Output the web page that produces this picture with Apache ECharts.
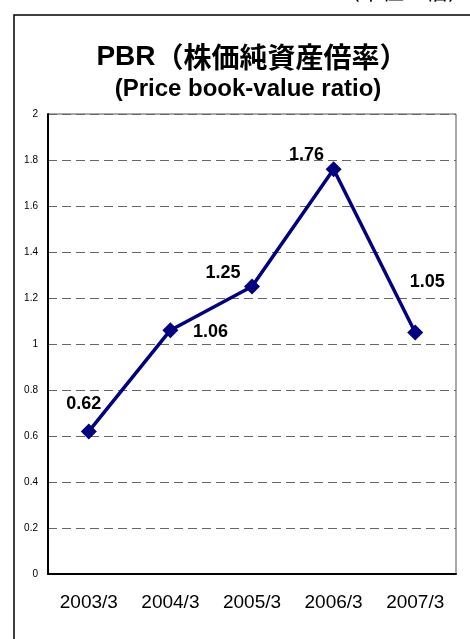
<!DOCTYPE html>
<html><head><meta charset="utf-8">
<script src="https://cdn.jsdelivr.net/npm/echarts@6/dist/echarts.min.js"></script>
<style>html,body{margin:0;padding:0;background:#fff}#c{width:470px;height:639px}</style>
</head><body><div id="c"></div>
<script>
const categories = ['2003/3','2004/3','2005/3','2006/3','2007/3'];
const pbrValues = [0.62, 1.06, 1.25, 1.76, 1.05];
const yTicks = {min: 0, max: 2, interval: 0.2};
const titleLatin = 'PBR';
const titleKanji = '（株価純資産倍率）';
const titleLine2 = '(Price book-value ratio)';
const unitText = '（単位：倍）';

const labelOffsets = [[-5,-27],[40,2],[-29,-13],[-27,-14],[12,-50]];

const chart = echarts.init(document.getElementById('c'));
chart.setOption({
  animation: false,
  backgroundColor: '#fff',
  graphic: [
    {type:'rect', shape:{x:14,y:15,width:470,height:640}, style:{fill:'none',stroke:'#000',lineWidth:1.5}, z:-1},
    {type:'text', x:470, y:-20, style:{text:unitText, fontSize:22, fontFamily:'Noto Sans CJK JP', fill:'#000', align:'right', verticalAlign:'top'}},
    {type:'text', x:252, y:57, style:{
      text:'{a|'+titleLatin+'}{b|'+titleKanji+'}', align:'center', verticalAlign:'middle',
      rich:{
        a:{fontSize:28, fontWeight:'bold', fontFamily:'Liberation Sans', fill:'#000', color:'#000'},
        b:{fontSize:28, fontWeight:'bold', fontFamily:'Noto Sans CJK JP', fill:'#000', color:'#000'}
      }}},
    {type:'text', x:248, y:89, style:{text:titleLine2, fontSize:24, fontWeight:'bold', fontFamily:'Liberation Sans', fill:'#000', align:'center', verticalAlign:'middle'}}
  ],
  grid: {left:48, right:14, top:114, bottom:65, show:true, borderColor:'#555', borderWidth:1, backgroundColor:'transparent'},
  xAxis: {
    type:'category', data:categories, boundaryGap:true,
    axisLine:{lineStyle:{color:'#000', width:2}},
    axisTick:{inside:true, length:5, lineStyle:{color:'#000'}},
    axisLabel:{fontSize:19, color:'#000', fontFamily:'Liberation Sans', margin:19}
  },
  yAxis: {
    type:'value', min:yTicks.min, max:yTicks.max, interval:yTicks.interval,
    axisLine:{show:true, lineStyle:{color:'#000', width:2}},
    axisTick:{show:false},
    axisLabel:{fontSize:10, color:'#000', fontFamily:'Liberation Sans', margin:10},
    splitLine:{show:true, lineStyle:{color:'#666', type:[9,5], width:1}}
  },
  series: [{
    type:'line',
    data: pbrValues.map((v,i)=>({value:v, label:{offset:labelOffsets[i]}})),
    lineStyle:{color:'#000080', width:3.5},
    itemStyle:{color:'#000080'},
    symbol:'diamond', symbolSize:16,
    label:{show:true, position:'inside', fontSize:18, fontWeight:'bold', fontFamily:'Liberation Sans', color:'#000', align:'center', verticalAlign:'middle',
      formatter:p=>p.value.toFixed(2)}
  }]
});
</script></body></html>
